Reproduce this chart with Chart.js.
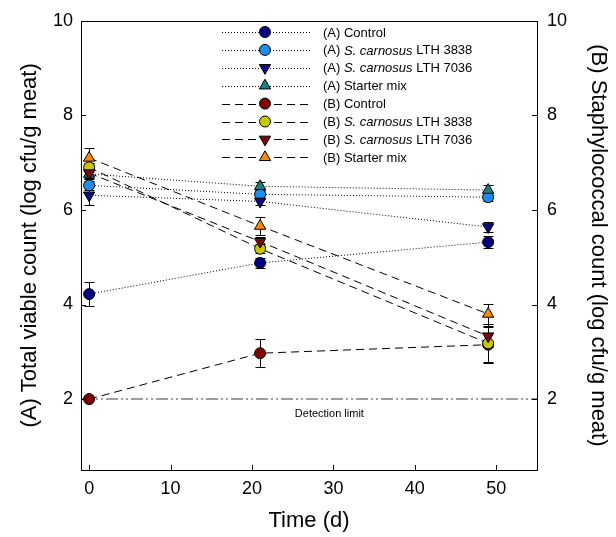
<!DOCTYPE html>
<html><head><meta charset="utf-8">
<script src="https://cdn.jsdelivr.net/npm/chart.js@4"></script>
<style>html,body{margin:0;padding:0;background:#fff}</style>
</head><body>
<canvas id="c" width="616" height="537" style="width:616px;height:537px"></canvas>
<script>
// ---- data ----
const days = [0, 21, 49];
const xTicks = [0, 10, 20, 30, 40, 50];
const yTicks = [2, 4, 6, 8, 10];
const detectionLimit = 2;
const detectionRange = [-1, 55];

const aControl = [4.22, 4.88, 5.32];
const aControlErr = [0.25, 0.10, 0.12];
const a3838 = [6.52, 6.33, 6.27];
const a3838Err = [0.10, 0.10, 0.08];
const a7036 = [6.31, 6.18, 5.64];
const a7036Err = [0.20, 0.08, 0.10];
const aStarter = [6.76, 6.50, 6.42];
const aStarterErr = [0.10, 0.10, 0.10];

const bControl = [2.00, 2.97, 3.15];
const bControlErr = [0.00, 0.30, 0.38];
const b3838 = [6.90, 5.18, 3.18];
const b3838Err = [0.10, 0.10, 0.40];
const b7036 = [6.78, 5.33, 3.33];
const b7036Err = [0.10, 0.10, 0.22];
const bStarter = [7.10, 5.66, 3.80];
const bStarterErr = [0.20, 0.20, 0.22];

const seriesLabels = [
  [{t:'(A) Control'}],
  [{t:'(A) '},{t:'S. carnosus',i:true},{t:' LTH 3838'}],
  [{t:'(A) '},{t:'S. carnosus',i:true},{t:' LTH 7036'}],
  [{t:'(A) Starter mix'}],
  [{t:'(B) Control'}],
  [{t:'(B) '},{t:'S. carnosus',i:true},{t:' LTH 3838'}],
  [{t:'(B) '},{t:'S. carnosus',i:true},{t:' LTH 7036'}],
  [{t:'(B) Starter mix'}]
];

const FONT = "'Liberation Sans', Arial, sans-serif";
const DOT = [1, 2];
const DASH = [8, 5];

function pts(vals){ return days.map((d,i)=>({x:d,y:vals[i]})); }
function ds(vals, err, color, style, rot, dash, order){
  return {
    data: pts(vals), err: err, showLine: true,
    borderColor: '#000', borderWidth: 1, borderDash: dash,
    pointBackgroundColor: color, pointBorderColor: '#000', pointBorderWidth: 1,
    pointStyle: style, pointRotation: rot, pointRadius: style==='circle'?5.5:6.5,
    order: order, legendStyle: {color, style, rot, dash}
  };
}

const datasets = [
  ds(aControl, aControlErr, '#000080', 'circle', 0, DOT, 8),
  ds(a3838, a3838Err, '#1e8cf0', 'circle', 0, DOT, 7),
  ds(a7036, a7036Err, '#0c0c80', 'triangle', 180, DOT, 6),
  ds(aStarter, aStarterErr, '#1e7f7f', 'triangle', 0, DOT, 5),
  ds(bControl, bControlErr, '#800000', 'circle', 0, DASH, 4),
  ds(b3838, b3838Err, '#c8c800', 'circle', 0, DASH, 3),
  ds(b7036, b7036Err, '#7a0a0a', 'triangle', 180, DASH, 2),
  ds(bStarter, bStarterErr, '#ff8c00', 'triangle', 0, DASH, 1),
  {
    data: detectionRange.map(x=>({x:x,y:detectionLimit})), showLine: true,
    borderColor: '#808080', borderWidth: 1.5, borderDash: [12,3,2,3,2,3],
    pointRadius: 0, order: 9, isLimit: true
  }
];

const errorBars = {
  id: 'errorBars',
  beforeDatasetsDraw(chart){
    const ctx = chart.ctx, xs = chart.scales.x, ys = chart.scales.y;
    ctx.save(); ctx.strokeStyle = '#000'; ctx.lineWidth = 1; ctx.setLineDash([]);
    chart.data.datasets.forEach(d=>{
      if(!d.err) return;
      d.data.forEach((p,i)=>{
        const e = d.err[i]; if(!e) return;
        const px = Math.round(xs.getPixelForValue(p.x))+0.5;
        const y1 = Math.round(ys.getPixelForValue(p.y+e))+0.5;
        const y2 = Math.round(ys.getPixelForValue(p.y-e))+0.5;
        ctx.beginPath();
        ctx.moveTo(px,y1); ctx.lineTo(px,y2);
        ctx.moveTo(px-5,y1); ctx.lineTo(px+5,y1);
        ctx.moveTo(px-5,y2); ctx.lineTo(px+5,y2);
        ctx.stroke();
      });
    });
    ctx.restore();
  }
};

const frameTicks = {
  id: 'frameTicks',
  afterDraw(chart){
    const ctx = chart.ctx, a = chart.chartArea;
    const xs = chart.scales.x, ys = chart.scales.y, y2 = chart.scales.y2;
    ctx.save(); ctx.strokeStyle = '#000'; ctx.lineWidth = 1; ctx.setLineDash([]);
    ctx.strokeRect(Math.round(a.left)+0.5, Math.round(a.top)+0.5, Math.round(a.right-a.left), Math.round(a.bottom-a.top));
    ctx.beginPath();
    xTicks.forEach(v=>{ const p=Math.round(xs.getPixelForValue(v))+0.5; ctx.moveTo(p,a.bottom); ctx.lineTo(p,a.bottom-5); });
    yTicks.forEach(v=>{ const p=Math.round(ys.getPixelForValue(v))+0.5; ctx.moveTo(a.left,p); ctx.lineTo(a.left+5,p);
      const q=Math.round(y2.getPixelForValue(v))+0.5; ctx.moveTo(a.right,q); ctx.lineTo(a.right-5,q); });
    ctx.stroke();
    // detection limit label
    ctx.fillStyle = '#000'; ctx.font = '11px ' + FONT; ctx.textAlign = 'center'; ctx.textBaseline = 'middle';
    ctx.fillText('Detection limit', xs.getPixelForValue(29.5), ys.getPixelForValue(detectionLimit) + 15);
    // legend
    const lx0 = 222, lx1 = 310, mx = 265, tx = 323, ly0 = 32, dy = 17.9;
    chart.data.datasets.forEach((d,i)=>{
      if(!d.legendStyle) return;
      const s = d.legendStyle, y = ly0 + i*dy;
      ctx.setLineDash(s.dash); ctx.strokeStyle = '#000'; ctx.lineWidth = 1;
      ctx.beginPath(); ctx.moveTo(lx0, Math.round(y)+0.5); ctx.lineTo(lx1, Math.round(y)+0.5); ctx.stroke();
      ctx.setLineDash([]);
      ctx.fillStyle = s.color; ctx.strokeStyle = '#000';
      Chart.helpers.drawPoint(ctx, {pointStyle: s.style, radius: s.style==='circle'?5.5:6.5, rotation: s.rot, borderWidth: 1}, mx, y);
      let x = tx; ctx.fillStyle = '#000'; ctx.textAlign = 'left'; ctx.textBaseline = 'middle';
      seriesLabels[i].forEach(part=>{
        ctx.font = (part.i?'italic ':'') + '13px ' + FONT;
        ctx.fillText(part.t, x, y+1);
        x += ctx.measureText(part.t).width;
      });
    });
    ctx.restore();
  }
};

const tickFont = {family: FONT, size: 18};
const titleFont = {family: FONT, size: 22};

new Chart(document.getElementById('c'), {
  type: 'scatter',
  data: { datasets },
  options: {
    responsive: false, animation: false, devicePixelRatio: 1,
    layout: { padding: { top: 20, left: 0, right: 0, bottom: 0 } },
    plugins: { legend: {display:false}, tooltip: {enabled:false} },
    scales: {
      x: {
        type: 'linear', min: -1, max: 55,
        afterBuildTicks: s => { s.ticks = xTicks.map(v=>({value:v})); },
        afterFit: s => { s.height = 67; },
        ticks: { font: tickFont, color: '#000', padding: 8, maxRotation: 0 },
        grid: { display: false, drawTicks: false },
        border: { display: false },
        title: { display: true, text: 'Time (d)', font: titleFont, color: '#000', padding: {top: 0, bottom: 3} }
      },
      y: {
        type: 'linear', position: 'left', min: 0.5, max: 10,
        afterBuildTicks: s => { s.ticks = yTicks.map(v=>({value:v})); },
        afterFit: s => { s.width = 81; },
        ticks: { font: tickFont, color: '#000', padding: 8 },
        grid: { display: false, drawTicks: false },
        border: { display: false },
        title: { display: true, text: '(A) Total viable count (log cfu/g meat)', font: titleFont, color: '#000', padding: {top: 17, bottom: 0} }
      },
      y2: {
        type: 'linear', position: 'right', min: 0.5, max: 10,
        afterBuildTicks: s => { s.ticks = yTicks.map(v=>({value:v})); },
        afterFit: s => { s.width = 79; },
        ticks: { font: tickFont, color: '#000', padding: 10 },
        grid: { display: false, drawTicks: false },
        border: { display: false },
        title: { display: true, text: '(B) Staphylococcal count (log cfu/g meat)', font: titleFont, color: '#000', padding: {top: 5, bottom: 0} }
      }
    }
  },
  plugins: [errorBars, frameTicks]
});
</script>
</body></html>
